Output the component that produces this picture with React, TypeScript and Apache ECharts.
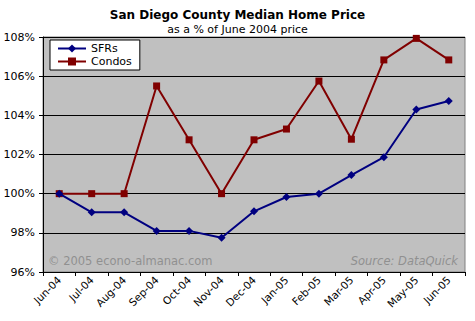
import React, { useEffect, useRef } from "react";
import * as echarts from "echarts";

const categories = ["Jun-04", "Jul-04", "Aug-04", "Sep-04", "Oct-04", "Nov-04", "Dec-04", "Jan-05", "Feb-05", "Mar-05", "Apr-05", "May-05", "Jun-05"];
const sfrs = [100, 99.05, 99.05, 98.1, 98.1, 97.75, 99.1, 99.83, 100, 100.95, 101.86, 104.3, 104.73];
const condos = [100, 100, 100, 105.5, 102.75, 100, 102.75, 103.3, 105.75, 102.78, 106.83, 107.93, 106.83];
const yMin = 96;
const yMax = 108;
const yStep = 2;

const FONT = "DejaVu Sans";

export default function App() {
  const ref = useRef<HTMLDivElement>(null);
  useEffect(() => {
    document.body.style.margin = "0";
    if (!ref.current) return;
    const chart = echarts.init(ref.current, null, { renderer: "svg" });
    chart.setOption({
      animation: false,
      backgroundColor: "#ffffff",
      title: {
        text: "San Diego County Median Home Price",
        subtext: "as a % of June 2004 price",
        left: "center",
        top: 4,
        itemGap: 3,
        textStyle: { fontFamily: FONT, fontSize: 12, fontWeight: "bold", color: "#000" },
        subtextStyle: { fontFamily: FONT, fontSize: 11, color: "#000" },
      },
      legend: {
        left: 50,
        top: 40,
        orient: "vertical",
        backgroundColor: "#ffffff",
        borderColor: "#000",
        borderWidth: 1,
        borderRadius: 0,
        padding: [3, 8, 3, 7],
        itemGap: 2,
        itemWidth: 28,
        itemHeight: 10,
        textStyle: { fontFamily: FONT, fontSize: 11, color: "#000" },
        data: ["SFRs", "Condos"],
      },
      grid: { left: 43, top: 37, right: 10, bottom: 49, show: true, backgroundColor: "#c0c0c0", borderColor: "#808080", borderWidth: 1 },
      xAxis: {
        type: "category",
        data: categories,
        boundaryGap: true,
        axisLine: { lineStyle: { color: "#000", width: 1 } },
        axisTick: { show: true, inside: false, length: 4, lineStyle: { color: "#000" } },
        axisLabel: { rotate: 45, fontFamily: FONT, fontSize: 10.5, color: "#000", margin: 6, interval: 0 },
      },
      yAxis: {
        type: "value",
        min: yMin,
        max: yMax,
        interval: yStep,
        axisLine: { show: true, lineStyle: { color: "#000", width: 1 } },
        axisTick: { show: true, inside: false, length: 4, lineStyle: { color: "#000" } },
        axisLabel: { formatter: (v: number) => v + "%", fontFamily: FONT, fontSize: 11, color: "#000", margin: 8 },
        splitLine: { show: true, lineStyle: { color: "#000", width: 1 } },
      },
      graphic: [
        {
          type: "text",
          left: 48,
          top: 255,
          style: { text: "© 2005 econo-almanac.com", fontFamily: FONT, fontSize: 11.5, fill: "#909090" },
        },
        {
          type: "text",
          right: 17,
          top: 255,
          style: { text: "Source: DataQuick", fontFamily: FONT, fontSize: 11.5, fontStyle: "italic", fill: "#909090" },
        },
      ],
      series: [
        {
          name: "SFRs",
          type: "line",
          data: sfrs,
          symbol: "diamond",
          symbolSize: 8,
          itemStyle: { color: "#000080" },
          lineStyle: { color: "#000080", width: 2 },
          z: 3,
        },
        {
          name: "Condos",
          type: "line",
          data: condos,
          symbol: "rect",
          symbolSize: 7,
          itemStyle: { color: "#800000" },
          lineStyle: { color: "#800000", width: 2 },
          z: 2,
        },
      ],
    });
    return () => chart.dispose();
  }, []);
  return <div ref={ref} style={{ width: 475, height: 321 }} />;
}
